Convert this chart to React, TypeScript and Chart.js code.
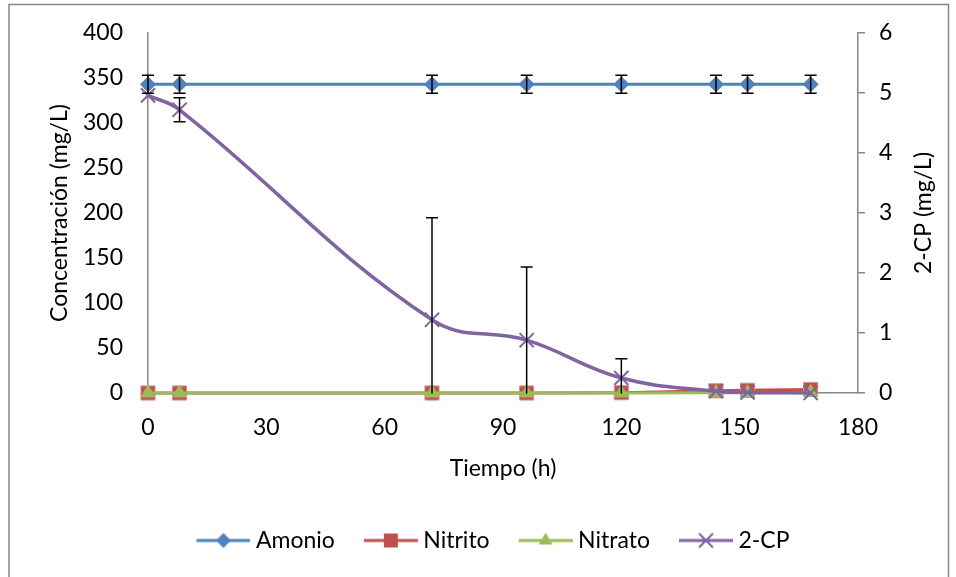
import React, { useEffect, useRef } from "react";
import { Chart, registerables } from "chart.js";

Chart.register(...registerables);

// ---- data ----
const hours = [0, 8, 72, 96, 120, 144, 152, 168];
const amonio = [343, 343, 343, 343, 343, 343, 343, 343];
const amonioErr = [10, 10, 10, 10, 10, 10, 10, 10];
const nitrito = [0, 0, 0, 0, 0.3, 2.5, 3, 4];
const nitrato = [0, 0, 0, 0, 0, 0.3, 0.3, 0.5];
const cp2 = [4.96, 4.72, 1.22, 0.88, 0.25, 0.03, 0.01, 0.0];
const cp2Err = [0, 0.2, 1.7, 1.22, 0.32, 0, 0, 0];

const xTickValues = [0, 30, 60, 90, 120, 150, 180];
const leftTickValues = [0, 50, 100, 150, 200, 250, 300, 350, 400];
const rightTickValues = [0, 1, 2, 3, 4, 5, 6];

const seriesNames = ["Amonio", "Nitrito", "Nitrato", "2-CP"];
const COLORS = ["#4F81BD", "#C0504D", "#9BBB59", "#8064A2"];
const FONT = "Lato";
const AXIS_GRAY = "#868686";

function pts(values: number[]) {
  return hours.map((h, i) => ({ x: h, y: values[i] }));
}

function drawMarker(ctx: CanvasRenderingContext2D, shape: string, x: number, y: number, color: string) {
  ctx.fillStyle = color;
  ctx.strokeStyle = color;
  ctx.beginPath();
  if (shape === "diamond") {
    const r = 7.5;
    ctx.moveTo(x, y - r);
    ctx.lineTo(x + r, y);
    ctx.lineTo(x, y + r);
    ctx.lineTo(x - r, y);
    ctx.closePath();
    ctx.fill();
  } else if (shape === "square") {
    const s = 7;
    ctx.rect(x - s, y - s, 2 * s, 2 * s);
    ctx.fill();
  } else if (shape === "triangle") {
    const r = 8;
    ctx.moveTo(x, y - r);
    ctx.lineTo(x + r * 0.866, y + r / 2);
    ctx.lineTo(x - r * 0.866, y + r / 2);
    ctx.closePath();
    ctx.fill();
  } else {
    const a = 7;
    ctx.lineWidth = 2;
    ctx.moveTo(x - a, y - a);
    ctx.lineTo(x + a, y + a);
    ctx.moveTo(x + a, y - a);
    ctx.lineTo(x - a, y + a);
    ctx.stroke();
  }
}

function legendImage(color: string, shape: string) {
  const c = document.createElement("canvas");
  c.width = 60;
  c.height = 24;
  const ctx = c.getContext("2d")!;
  ctx.strokeStyle = color;
  ctx.lineWidth = 3;
  ctx.beginPath();
  ctx.moveTo(6, 12);
  ctx.lineTo(60, 12);
  ctx.stroke();
  drawMarker(ctx, shape, 33, 12, color);
  return c;
}

const errorBarPlugin = {
  id: "errorBars",
  afterDatasetsDraw(chart: any) {
    const { ctx, chartArea } = chart;
    const xs = chart.scales.x;
    ctx.save();
    ctx.beginPath();
    ctx.rect(chartArea.left - 20, chartArea.top, chartArea.right - chartArea.left + 40, chartArea.bottom - chartArea.top + 0.5);
    ctx.clip();
    ctx.strokeStyle = "#000";
    ctx.lineWidth = 1.5;
    const draw = (vals: number[], errs: number[], scaleId: string) => {
      const ys = chart.scales[scaleId];
      vals.forEach((v, i) => {
        const e = errs[i];
        if (!e) return;
        const px = xs.getPixelForValue(hours[i]);
        const top = ys.getPixelForValue(v + e);
        const bot = ys.getPixelForValue(v - e);
        ctx.beginPath();
        ctx.moveTo(px, top);
        ctx.lineTo(px, bot);
        ctx.moveTo(px - 6, top);
        ctx.lineTo(px + 6, top);
        ctx.moveTo(px - 6, bot);
        ctx.lineTo(px + 6, bot);
        ctx.stroke();
      });
    };
    draw(amonio, amonioErr, "y");
    draw(cp2, cp2Err, "y1");
    ctx.restore();
  },
};

const framePlugin = {
  id: "frame",
  afterDraw(chart: any) {
    const { ctx } = chart;
    ctx.save();
    ctx.strokeStyle = AXIS_GRAY;
    ctx.lineWidth = 1.5;
    ctx.beginPath();
    ctx.moveTo(9, 600);
    ctx.lineTo(9, 4.5);
    ctx.lineTo(948.5, 4.5);
    ctx.lineTo(948.5, 600);
    ctx.stroke();
    // right axis title (reads bottom-to-top)
    ctx.fillStyle = "#000";
    ctx.font = `23px ${FONT}`;
    ctx.textAlign = "center";
    ctx.textBaseline = "middle";
    ctx.translate(924, 213);
    ctx.rotate(-Math.PI / 2);
    ctx.fillText("2-CP (mg/L)", 0, 0);
    ctx.restore();
  },
};

const PAD = { left: 30, right: 0, top: 33, bottom: 15 };

export default function App() {
  const ref = useRef<HTMLCanvasElement>(null);
  useEffect(() => {
    if (!ref.current) return;
    const shapes = ["diamond", "square", "triangle", "cross"];
    const images = shapes.map((s, i) => legendImage(COLORS[i], s));
    const chart = new Chart(ref.current, {
      type: "line",
      data: {
        datasets: [
          {
            label: seriesNames[0],
            data: pts(amonio),
            yAxisID: "y",
            borderColor: COLORS[0],
            backgroundColor: COLORS[0],
            borderWidth: 3,
            pointStyle: "rectRot",
            pointRadius: 7.5,
            pointBorderWidth: 1,
            clip: false as any,
            order: 4,
          },
          {
            label: seriesNames[1],
            data: pts(nitrito),
            yAxisID: "y",
            borderColor: COLORS[1],
            backgroundColor: COLORS[1],
            borderWidth: 3,
            pointStyle: "rect",
            pointRadius: 10,
            pointBorderWidth: 1,
            pointBorderColor: "#D9918F",
            clip: false as any,
            order: 3,
          },
          {
            label: seriesNames[2],
            data: pts(nitrato),
            yAxisID: "y",
            borderColor: COLORS[2],
            backgroundColor: COLORS[2],
            borderWidth: 3,
            pointStyle: "triangle",
            pointRadius: 8,
            pointBorderWidth: 1,
            clip: false as any,
            order: 2,
          },
          {
            label: seriesNames[3],
            data: pts(cp2),
            yAxisID: "y1",
            borderColor: COLORS[3],
            backgroundColor: COLORS[3],
            borderWidth: 3.5,
            tension: 0.4,
            pointStyle: "crossRot",
            pointRadius: 10,
            pointBorderWidth: 2,
            clip: false as any,
            order: 1,
          },
        ],
      },
      options: {
        animation: false,
        responsive: false,
        devicePixelRatio: 1,
        layout: { padding: PAD, autoPadding: false },
        plugins: {
          tooltip: { enabled: false },
          legend: {
            display: true,
            position: "bottom",
            labels: {
              usePointStyle: true,
              pointStyleWidth: 48,
              padding: 29,
              color: "#000",
              font: { family: FONT, size: 23 },
              generateLabels: (ch: any) =>
                ch.data.datasets.map((ds: any, i: number) => ({
                  text: ds.label,
                  pointStyle: images[i],
                  fillStyle: COLORS[i],
                  strokeStyle: COLORS[i],
                  lineWidth: 0,
                  hidden: false,
                  datasetIndex: i,
                  fontColor: "#000",
                })),
            },
          },
        },
        scales: {
          x: {
            type: "linear",
            min: 0,
            max: 180,
            afterBuildTicks: (s: any) => {
              s.ticks = xTickValues.map((v) => ({ value: v }));
            },
            afterFit: (s: any) => {
              const lh = s.chart.legend ? s.chart.legend.height : 62;
              s.height = s.chart.height - PAD.bottom - lh - 393;
            },
            grid: { display: false, drawTicks: false },
            border: { display: true, color: AXIS_GRAY, width: 1.5 },
            ticks: { color: "#000", padding: 21, font: { family: FONT, size: 23 } },
            title: {
              display: true,
              text: "Tiempo (h)",
              color: "#000",
              font: { family: FONT, size: 23 },
              padding: { top: 0, bottom: 18 },
            },
          },
          y: {
            type: "linear",
            position: "left",
            min: 0,
            max: 400,
            afterBuildTicks: (s: any) => {
              s.ticks = leftTickValues.map((v) => ({ value: v }));
            },
            afterFit: (s: any) => {
              s.width = 148 - PAD.left;
            },
            grid: { drawOnChartArea: false, drawTicks: true, tickLength: 20, color: "rgba(0,0,0,0)" },
            border: { display: true, color: AXIS_GRAY, width: 1.5 },
            ticks: { color: "#000", padding: 5, font: { family: FONT, size: 23 } },
            title: {
              display: true,
              text: "Concentración (mg/L)",
              color: "#000",
              font: { family: FONT, size: 23 },
              padding: { top: 16, bottom: 0 },
            },
          },
          y1: {
            type: "linear",
            position: "right",
            min: 0,
            max: 6,
            afterBuildTicks: (s: any) => {
              s.ticks = rightTickValues.map((v) => ({ value: v }));
            },
            afterFit: (s: any) => {
              s.width = 956 - PAD.right - 858;
            },
            grid: { drawOnChartArea: false, drawTicks: true, tickLength: 7, color: AXIS_GRAY, lineWidth: 1.5 },
            border: { display: true, color: AXIS_GRAY, width: 1.5 },
            ticks: { color: "#000", padding: 14, font: { family: FONT, size: 23 } },
            title: { display: false },
          },
        },
      },
      plugins: [errorBarPlugin, framePlugin],
    } as any);
    return () => chart.destroy();
  }, []);
  return (
    <div style={{ position: "fixed", left: 0, top: 0, width: 956, height: 577 }}>
      <canvas ref={ref} width={956} height={577} style={{ display: "block" }} />
    </div>
  );
}
